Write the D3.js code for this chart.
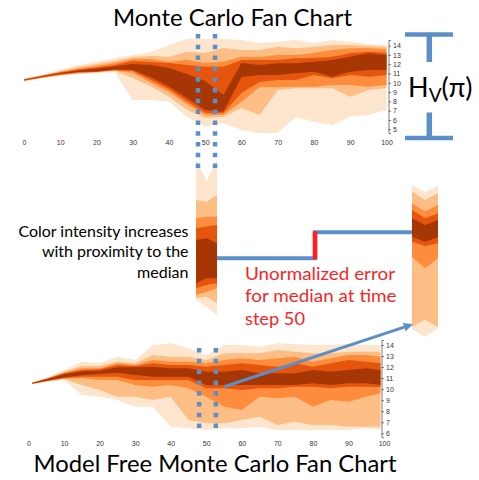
<!DOCTYPE html>
<html lang="en">
<head>
<meta charset="UTF-8">
<title>Monte Carlo Fan Charts</title>
<script src="https://cdn.jsdelivr.net/npm/d3@7"></script>
<style>
  body { margin: 0; background: #fff; }
  svg { display: block; }
  .tick text { font-family: "Liberation Sans", Arial, sans-serif; font-size: 7px; fill: #333; }
  .title { font-family: Lato, "Open Sans", sans-serif; font-size: 23px; fill: #000; }
  .note { font-family: Lato, "Open Sans", sans-serif; font-size: 16px; fill: #000; }
  .err { font-family: Lato, "Open Sans", sans-serif; font-size: 17.5px; fill: #fb1f26; }
</style>
</head>
<body>
<svg id="fig" width="479" height="480"></svg>
<script>
// time steps
const mcSteps = [0,5,10,15,20,25,30,35,40,45,50,55,60,65,70,75,80,85,90,95,100];
const mfSteps = [1,5,10,15,20,25,30,35,40,45,50,55,60,65,70,75,80,85,90,95,99];
const sliceSteps = [47, 50, 53];

// Monte Carlo fan chart: upper / lower edge of each band, outer band first
const mcHi = [
  [10.46,10.89,11.37,11.91,12.27,12.66,12.99,13.31,14.06,14.70,14.70,14.70,14.60,14.28,14.42,14.60,14.28,14.60,14.42,14.17,14.06],
  [10.41,10.81,11.27,11.70,12.02,12.34,12.77,12.88,12.80,13.34,13.20,13.74,13.52,13.52,13.88,13.71,13.85,14.06,14.06,13.95,13.88],
  [10.37,10.77,11.18,11.53,11.80,12.13,12.56,12.56,12.27,12.45,12.13,12.27,12.80,12.77,12.99,12.99,13.20,13.52,13.71,13.71,13.63],
  [10.34,10.73,11.10,11.43,11.64,11.91,12.34,12.23,12.13,11.91,11.73,11.73,12.45,12.45,12.45,12.63,12.66,12.80,13.17,13.34,13.23],
  [10.32,10.70,11.05,11.32,11.53,11.75,12.02,11.91,11.60,10.94,10.20,8.69,12.13,11.91,12.09,12.09,12.27,12.45,12.80,13.17,12.99]
];
const mcLo = [
  [10.14,10.46,10.73,10.94,11.02,11.16,8.15,8.15,7.96,6.35,5.28,5.67,4.92,4.60,4.60,6.32,5.78,5.46,6.35,6.53,7.07],
  [10.19,10.51,10.78,11.00,11.10,11.27,10.51,9.60,8.50,7.10,6.21,6.32,7.29,6.53,9.22,9.41,9.41,9.41,8.50,9.22,9.44],
  [10.22,10.56,10.84,11.05,11.16,11.32,11.05,10.00,9.00,7.70,6.53,6.53,7.96,9.55,9.51,9.58,9.58,9.76,9.76,9.58,9.76],
  [10.25,10.60,10.89,11.10,11.18,11.37,11.27,10.30,9.30,8.00,6.75,6.75,8.90,10.08,10.30,10.30,10.84,10.48,10.84,10.65,10.84],
  [10.28,10.63,10.94,11.16,11.21,11.43,11.37,10.60,9.60,8.35,7.07,6.89,10.62,10.84,10.84,11.02,11.19,10.65,11.19,11.37,11.37]
];

// Model free Monte Carlo fan chart
const mfHi = [
  [10.62,11.04,11.74,12.49,12.34,12.94,12.64,14.00,14.15,13.70,13.09,14.00,14.00,13.85,14.15,14.09,14.00,14.00,14.09,14.00,14.00],
  [10.60,10.98,11.58,12.10,12.10,12.49,12.34,13.09,12.94,12.94,12.64,13.25,13.25,13.25,13.55,13.39,13.25,13.25,13.39,13.39,13.39],
  [10.58,10.95,11.49,11.89,11.89,12.34,12.19,12.64,12.49,12.49,12.34,12.64,12.80,12.64,12.80,12.94,12.49,12.80,13.09,13.09,12.94],
  [10.56,10.92,11.44,11.74,11.80,12.19,12.10,12.34,12.19,12.19,12.03,12.19,12.34,12.19,12.03,12.34,12.03,12.34,12.64,12.49,12.34],
  [10.55,10.89,11.35,11.62,11.67,11.98,11.98,12.03,11.89,11.89,11.58,11.58,11.74,11.44,11.44,11.44,11.74,11.58,11.74,11.89,11.74]
];
const mfLo = [
  [10.44,10.65,10.83,9.47,9.32,9.02,8.41,8.41,6.60,6.45,6.30,6.45,6.45,6.60,6.30,6.30,6.30,6.30,6.30,6.45,6.30],
  [10.46,10.70,10.92,10.38,9.92,9.32,9.32,9.02,9.32,7.21,6.91,6.91,7.21,7.51,6.75,7.05,6.75,6.75,6.60,6.60,6.60],
  [10.48,10.72,10.95,10.98,10.83,10.83,10.38,10.22,10.38,10.08,9.32,8.41,8.11,9.32,9.17,9.32,8.41,9.02,8.86,9.32,9.62],
  [10.50,10.74,11.01,11.13,11.13,11.13,10.83,10.83,10.83,10.83,10.08,10.08,9.92,10.08,10.08,10.22,10.22,10.08,10.22,10.22,10.20],
  [10.51,10.77,11.07,11.26,11.37,11.49,11.28,11.13,11.13,11.13,10.38,10.38,10.38,10.38,10.38,10.38,10.53,10.38,10.53,10.53,10.38]
];

// magnified slices around time step 50
const sliceMcHi = [[14.7,13.43,14.7],[12.27,12.17,12.58],[11.16,11.26,11.26],[10.56,10.66,10.76],[9.85,9.95,9.65]];
const sliceMcLo = [[6.21,5.80,5.30],[6.31,6.41,6.01],[6.51,6.71,6.92],[6.92,7.12,7.22],[7.22,7.53,7.53]];
const sliceMfHi = [[13.1,12.78,13.05],[12.8,12.42,12.72],[12.27,11.89,12.19],[11.96,11.59,11.81],[11.59,11.28,11.51]];
const sliceMfLo = [[6.56,6.2,6.6],[6.65,6.97,6.65],[9.84,9.31,9.77],[10.52,10.33,10.45],[10.75,10.52,10.72]];
const medianMc = 8.74;
const medianMf = 10.95;
const markedSteps = [48, 52.7];

// ticks
const xTicks = [0,10,20,30,40,50,60,70,80,90,100];
const mcYTicks = [5,6,7,8,9,10,11,12,13,14];
const mfYTicks = [6,7,8,9,10,11,12,13,14];

const fanColors = ["#fee6ce", "#fdbe85", "#fd8d3c", "#e6550d", "#a63603"];
const blue = "#5b8fc7";

const svg = d3.select("#fig");

function drawFan(g, steps, hi, lo, x, y) {
  for (let b = 0; b < hi.length; b++) {
    const pts = steps.map((t, i) => ({t: t, hi: hi[b][i], lo: lo[b][i]}));
    g.append("path")
      .datum(pts)
      .attr("fill", fanColors[b])
      .attr("d", d3.area().x(d => x(d.t)).y0(d => y(d.lo)).y1(d => y(d.hi)));
  }
}

function drawAxes(x, y, xAxisY, yAxisX, yTicks) {
  const gx = svg.append("g")
    .attr("transform", `translate(0,${xAxisY})`)
    .call(d3.axisBottom(x).tickValues(xTicks).tickSize(0).tickPadding(0));
  gx.select(".domain").remove();

  svg.append("g")
    .attr("transform", `translate(${yAxisX},0)`)
    .call(d3.axisRight(y).tickValues(yTicks).tickSize(2.5).tickSizeOuter(2.5).tickPadding(2))
    .call(g => g.selectAll("path, line").attr("stroke", "#444").attr("stroke-width", 0.7));
}

function dotted(x, y1, y2) {
  svg.append("line")
    .attr("x1", x).attr("x2", x).attr("y1", y1).attr("y2", y2)
    .attr("stroke", blue).attr("stroke-width", 4.5)
    .attr("stroke-dasharray", "4.5,6.3");
}

// ---- top chart
const xTop = d3.scaleLinear().domain([0, 100]).range([24, 386.5]);
const yTop = d3.scaleLinear().domain([4.6, 14.6]).range([133, 40]);
drawFan(svg.append("g"), mcSteps, mcHi, mcLo, xTop, yTop);
drawAxes(xTop, yTop, 140, 388.5, mcYTicks);

// ---- bottom chart
const xBot = d3.scaleLinear().domain([0, 100]).range([28.5, 384]);
const yBot = d3.scaleLinear().domain([5.65, 14.45]).range([437.2, 340]);
drawFan(svg.append("g"), mfSteps, mfHi, mfLo, xBot, yBot);
drawAxes(xBot, yBot, 440.7, 381.5, mfYTicks);

// ---- slices
const xSl1 = d3.scaleLinear().domain([47, 53]).range([196, 217]);
const ySl1 = d3.scaleLinear().domain([5.3, 14.7]).range([315, 160]);
drawFan(svg.append("g"), sliceSteps, sliceMcHi, sliceMcLo, xSl1, ySl1);

const xSl2 = d3.scaleLinear().domain([47, 53]).range([412, 438]);
const ySl2 = d3.scaleLinear().domain([6.2, 13.1]).range([336.8, 185]);
drawFan(svg.append("g"), sliceSteps, sliceMfHi, sliceMfLo, xSl2, ySl2);

// dotted markers
markedSteps.forEach(t => dotted(xTop(t), 34, 172));
markedSteps.forEach(t => dotted(xBot(t), 348, 430));

// step between medians
const stepX = 315;
const yA = ySl1(medianMc), yB = ySl2(medianMf);
svg.append("path")
  .attr("d", `M${xSl1(53)},${yA}H${stepX}V${yB}H${xSl2(47)}`)
  .attr("fill", "none").attr("stroke", blue).attr("stroke-width", 4);
svg.append("line")
  .attr("x1", stepX).attr("x2", stepX).attr("y1", yB - 1).attr("y2", yA + 1)
  .attr("stroke", "#fb1f26").attr("stroke-width", 4.7);

// arrow from bottom chart to the right slice
svg.append("defs").append("marker")
  .attr("id", "head").attr("viewBox", "0 0 10 10")
  .attr("refX", 8).attr("refY", 5)
  .attr("markerWidth", 3).attr("markerHeight", 3)
  .attr("orient", "auto")
  .append("path").attr("d", "M0,0L10,5L0,10z").attr("fill", blue);
svg.append("line")
  .attr("x1", xBot(55)).attr("y1", yBot(10.22))
  .attr("x2", xSl2(47) - 1).attr("y2", ySl2(6.74))
  .attr("stroke", blue).attr("stroke-width", 3)
  .attr("marker-end", "url(#head)");

// H_V(pi) bracket
const br = svg.append("g").attr("stroke", blue).attr("fill", "none");
br.append("line").attr("x1", 405).attr("x2", 453).attr("y1", 34.5).attr("y2", 34.5).attr("stroke-width", 4.5);
br.append("line").attr("x1", 429.3).attr("x2", 429.3).attr("y1", 34.5).attr("y2", 62).attr("stroke-width", 5.5);
br.append("line").attr("x1", 429.3).attr("x2", 429.3).attr("y1", 112.5).attr("y2", 138).attr("stroke-width", 5.5);
br.append("line").attr("x1", 405).attr("x2", 453).attr("y1", 138).attr("y2", 138).attr("stroke-width", 4.5);

const hv = svg.append("text")
  .attr("x", 408).attr("y", 96.7)
  .attr("font-family", "Lato, 'Open Sans', sans-serif")
  .attr("font-size", 27);
hv.append("tspan").text("H");
hv.append("tspan").attr("font-size", 19).attr("dy", 5).text("V");
hv.append("tspan").attr("dy", -5).text("(π)");

// titles and notes
svg.append("text").attr("class", "title")
  .attr("x", 113).attr("y", 26)
  .attr("textLength", 239).attr("lengthAdjust", "spacingAndGlyphs")
  .text("Monte Carlo Fan Chart");
svg.append("text").attr("class", "title")
  .attr("x", 33.5).attr("y", 472)
  .attr("textLength", 363).attr("lengthAdjust", "spacingAndGlyphs")
  .text("Model Free Monte Carlo Fan Chart");

const noteLines = [
  {t: "Color intensity increases", y: 237, w: 170},
  {t: "with proximity to the", y: 257, w: 146.5},
  {t: "median", y: 277.5, w: 51.5}
];
noteLines.forEach(l => {
  svg.append("text").attr("class", "note")
    .attr("x", 188.5 - l.w).attr("y", l.y)
    .attr("textLength", l.w).attr("lengthAdjust", "spacingAndGlyphs")
    .text(l.t);
});

const errLines = [
  {t: "Unormalized error", y: 279.5, w: 150},
  {t: "for median at time", y: 301.5, w: 151.5},
  {t: "step 50", y: 325, w: 60}
];
errLines.forEach(l => {
  svg.append("text").attr("class", "err")
    .attr("x", 245).attr("y", l.y)
    .attr("textLength", l.w).attr("lengthAdjust", "spacingAndGlyphs")
    .text(l.t);
});
</script>
</body>
</html>
